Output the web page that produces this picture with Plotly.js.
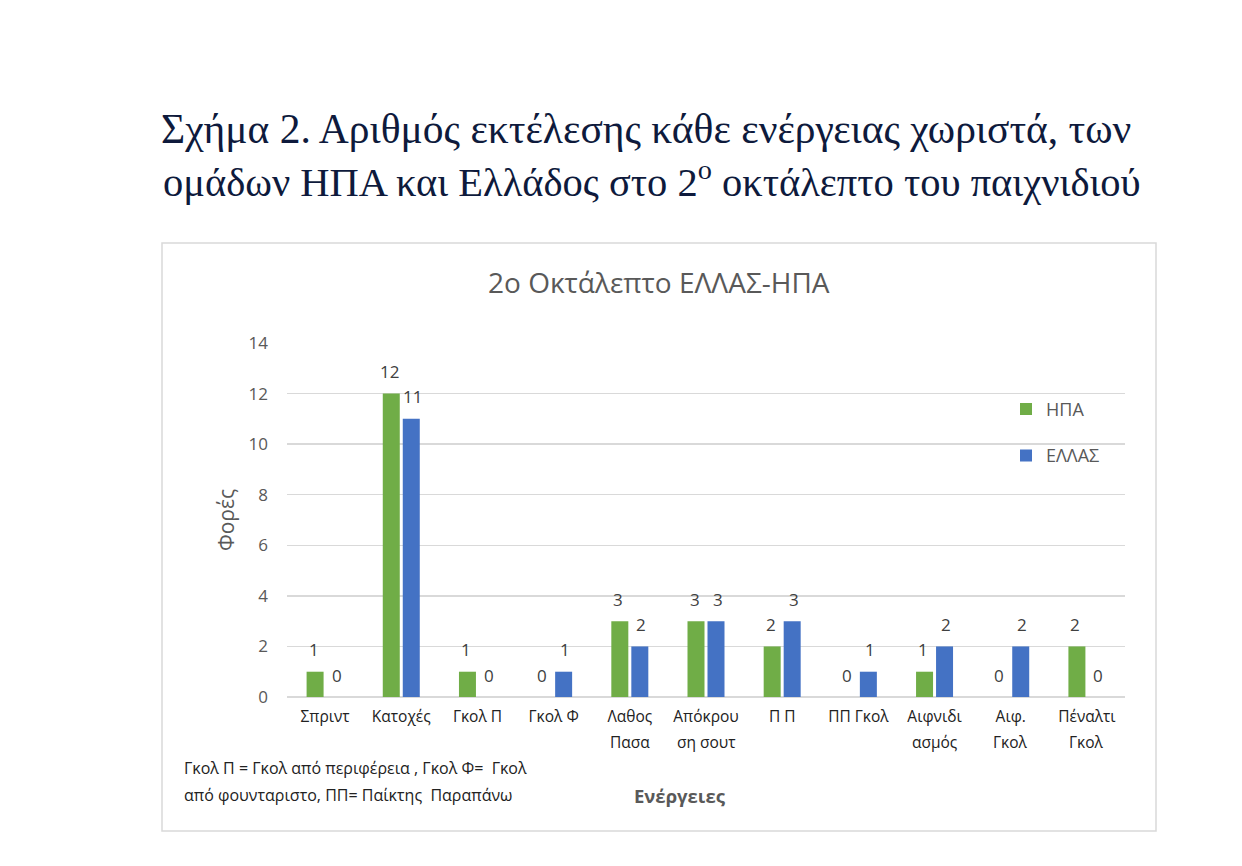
<!DOCTYPE html>
<html>
<head>
<meta charset="utf-8">
<script src="https://cdn.plot.ly/plotly-3.0.1.min.js"></script>
<style>html,body{margin:0;padding:0;background:#fff}#chart{width:1242px;height:866px}</style>
</head>
<body>
<div id="chart"></div>
<script>
const titleLines = ["Σχήμα 2. Αριθμός εκτέλεσης κάθε ενέργειας χωριστά, των", "ομάδων ΗΠΑ και Ελλάδος στο 2<sup>ο</sup> οκτάλεπτο του παιχνιδιού"];
const categoryLine1 = ["Σπριντ", "Κατοχές", "Γκολ Π", "Γκολ Φ", "Λαθος", "Απόκρου", "Π Π", "ΠΠ Γκολ", "Αιφνιδι", "Αιφ.", "Πέναλτι"];
const categoryLine2 = ["", "", "", "", "Πασα", "ση σουτ", "", "", "ασμός", "Γκολ", "Γκολ"];
const usaValues = [1, 12, 1, 0, 3, 3, 2, 0, 1, 0, 2];
const greeceValues = [0, 11, 0, 1, 2, 3, 3, 1, 2, 2, 0];
const seriesNames = ["ΗΠΑ", "ΕΛΛΑΣ"];
const yTicks = [0, 2, 4, 6, 8, 10, 12, 14];

const font = "'Open Sans', 'Noto Sans', sans-serif";
const serif = "'Liberation Serif', 'DejaVu Serif', serif";
const idx = categoryLine1.map((c, i) => i);
const colors = ['#70ad47', '#4472c4'];

const mk = (name, vals, color, grp) => ({
  type: 'bar', name: name, x: idx, y: vals,
  marker: {color: color},
  legendgroup: grp, hoverinfo: 'x+y'
});

const data = [
  mk(seriesNames[0], usaValues, colors[0], 'a'),
  mk(seriesNames[1], greeceValues, colors[1], 'b')
];

// data labels, placed above each bar through the data scales
const labelAnns = [];
[usaValues, greeceValues].forEach((vals, s) => {
  vals.forEach((v, j) => {
    labelAnns.push({
      text: String(v), x: j, y: v, xref: 'x', yref: 'y',
      xshift: s === 0 ? -11.5 : 11.5, yshift: 22,
      xanchor: 'center', yanchor: 'middle', showarrow: false,
      font: {family: font, size: 17, color: '#404040'}
    });
  });
});

// second lines of category labels
const line2Anns = categoryLine2.map((t, j) => ({
  text: t, x: j, xref: 'x', yref: 'paper', y: (697 - 742) / 354,
  xanchor: 'center', yanchor: 'middle', showarrow: false,
  font: {family: font, size: 15.5, color: '#222'}
})).filter(a => a.text);

const layout = {
  width: 1242, height: 866,
  margin: {l: 287, r: 117, t: 343, b: 169},
  paper_bgcolor: '#fff', plot_bgcolor: '#fff',
  barmode: 'group', bargap: 0.475, bargroupgap: 0.15,
  font: {family: font, color: '#595959'},
  title: {
    text: titleLines[0],
    font: {family: serif, size: 41.5, color: '#0e1a3c'},
    x: 161 / 1242, xanchor: 'left', xref: 'container', y: 1 - 128 / 866, yanchor: 'middle', yref: 'container'
  },
  xaxis: {
    tickmode: 'array', tickvals: idx, ticktext: categoryLine1,
    range: [-0.5, categoryLine1.length - 0.5],
    showgrid: false, zeroline: false, showline: false, ticks: '',
    ticklabelstandoff: 8,
    tickfont: {family: font, size: 15.5, color: '#222'},
    tickangle: 0, fixedrange: true
  },
  yaxis: {
    range: [0, 14], tickmode: 'array', tickvals: yTicks,
    showgrid: true, gridcolor: '#d9d9d9', gridwidth: 1.5,
    zeroline: true, zerolinecolor: '#d9d9d9', zerolinewidth: 1.5,
    showline: false, ticks: '', ticklabelstandoff: 18,
    tickfont: {family: font, size: 17, color: '#595959'},
    title: {text: 'Φορές', font: {family: font, size: 21, color: '#595959'}, standoff: 8},
    fixedrange: true
  },
  legend: {
    x: 0.858, y: 0.865, xanchor: 'left', yanchor: 'top',
    bgcolor: 'rgba(0,0,0,0)', tracegroupgap: 20,
    font: {family: font, size: 18, color: '#595959'}, traceorder: 'grouped'
  },
  shapes: [{
    type: 'rect', xref: 'paper', yref: 'paper',
    x0: (162 - 287) / 838, x1: (1156 - 287) / 838,
    y0: (697 - 831) / 354, y1: (697 - 243) / 354,
    line: {color: '#d9d9d9', width: 1.5}, fillcolor: 'rgba(0,0,0,0)', layer: 'below'
  }],
  annotations: [
    {text: titleLines[1], xref: 'paper', yref: 'paper',
     x: (161 - 287) / 838, y: (697 - 179) / 354, xanchor: 'left', yanchor: 'middle',
     showarrow: false, font: {family: serif, size: 40.5, color: '#0e1a3c'}},
    {text: '2o Οκτάλεπτο ΕΛΛΑΣ-ΗΠΑ', xref: 'paper', yref: 'paper',
     x: (659 - 287) / 838, y: (697 - 282) / 354, xanchor: 'center', yanchor: 'middle',
     showarrow: false, font: {family: font, size: 28, color: '#595959'}},
    {text: '<b>Ενέργειες</b>', xref: 'paper', yref: 'paper',
     x: (680 - 287) / 838, y: (697 - 795) / 354, xanchor: 'center', yanchor: 'middle',
     showarrow: false, font: {family: font, size: 18.5, color: '#595959'}},
    {text: 'Γκολ Π = Γκολ από περιφέρεια , Γκολ Φ=  Γκολ', xref: 'paper', yref: 'paper',
     x: (182 - 287) / 838, y: (697 - 768) / 354, xanchor: 'left', yanchor: 'middle', align: 'left',
     showarrow: false, font: {family: font, size: 16, color: '#222'}},
    {text: 'από φουνταριστο, ΠΠ= Παίκτης  Παραπάνω', xref: 'paper', yref: 'paper',
     x: (182 - 287) / 838, y: (697 - 795) / 354, xanchor: 'left', yanchor: 'middle', align: 'left',
     showarrow: false, font: {family: font, size: 16, color: '#222'}}
  ].concat(labelAnns, line2Anns),
  showlegend: true
};

Plotly.newPlot('chart', data, layout, {displayModeBar: false, staticPlot: true});
</script>
</body>
</html>
